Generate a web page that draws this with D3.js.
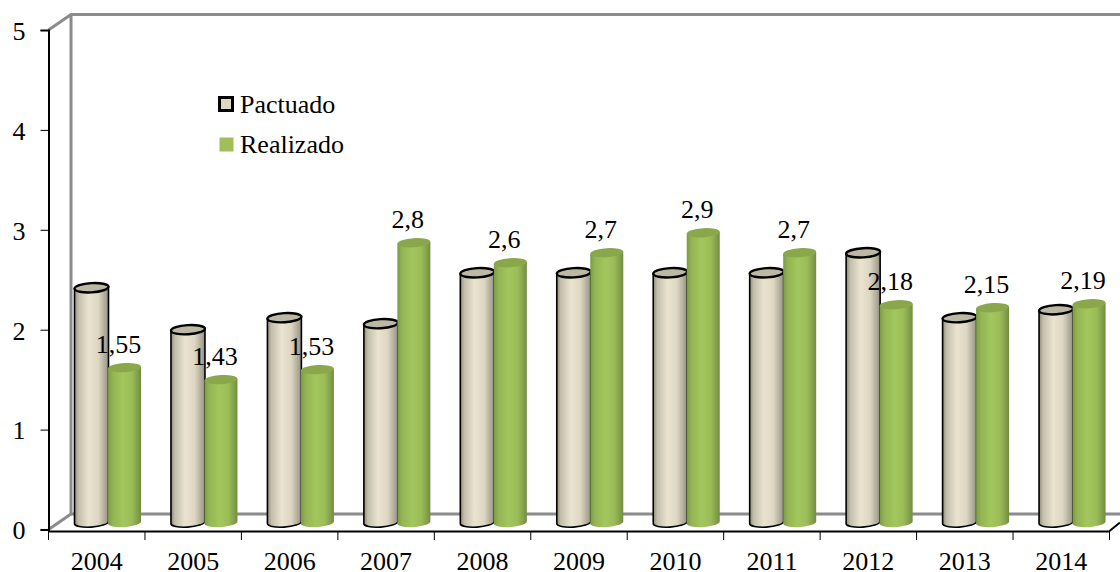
<!DOCTYPE html>
<html>
<head>
<meta charset="utf-8">
<script src="https://cdn.jsdelivr.net/npm/d3@7"></script>
<style>
html, body { margin: 0; padding: 0; background: #fff; }
text { font-family: "Liberation Serif", serif; font-size: 26px; fill: #000; }
</style>
</head>
<body>
<svg id="chart"></svg>
<script>
const years = ["2004","2005","2006","2007","2008","2009","2010","2011","2012","2013","2014"];
const pactuado = [2.35,1.93,2.05,1.99,2.5,2.5,2.5,2.5,2.7,2.05,2.13];
const realizado = [1.55,1.43,1.53,2.8,2.6,2.7,2.9,2.7,2.18,2.15,2.19];
const realizadoLabels = ["1,55","1,43","1,53","2,8","2,6","2,7","2,9","2,7","2,18","2,15","2,19"];
const seriesNames = ["Pactuado","Realizado"];
const yTicks = [0,1,2,3,4,5];

const width = 1120, height = 572;
const svg = d3.select("#chart").attr("width", width).attr("height", height);

const x = d3.scaleBand().domain(years).range([48.5, 1109.5]);
const y = d3.scaleLinear().domain([0, 5]).range([529.5, 30]);

// bars sit on the floor, a little behind the axis line
const depth = {dx: 22.5, dy: 15.5};
const baseShift = 6;
const beigeCx = d => x(d) + 43;
const greenCx = d => x(d) + 76;

const defs = svg.append("defs");
function cylGradient(id, stops) {
    defs.append("linearGradient").attr("id", id)
        .selectAll("stop")
        .data(stops)
        .join("stop")
        .attr("offset", d => d[0])
        .attr("stop-color", d => d[1]);
}
cylGradient("beige", [[0,"#8f8b7b"],[0.12,"#c4bfac"],[0.42,"#e9e3cf"],[0.7,"#dcd6c2"],[0.92,"#aaa594"],[1,"#8f8b7b"]]);
cylGradient("green", [[0,"#7c9a48"],[0.15,"#94b553"],[0.45,"#a3c65d"],[0.72,"#9bbd58"],[0.92,"#7f9c49"],[1,"#6f8a40"]]);

// walls and floor
const wall = svg.append("g")
    .attr("fill", "none")
    .attr("stroke", "#8c8c8c")
    .attr("stroke-width", 3);
const backX = x.range()[0] + depth.dx;
const backTop = y(5) - depth.dy;
const backBottom = y(0) - depth.dy;
wall.append("path").attr("d", `M${x.range()[0]},${y(5)}L${backX},${backTop}L${width},${backTop}`);
wall.append("path").attr("d", `M${backX},${backTop}L${backX},${backBottom}L${width},${backBottom}`);
wall.append("path").attr("d", `M${x.range()[0]},${y(0)}L${backX},${backBottom}`);
svg.append("path")
    .attr("d", `M${x.range()[1]},${y(0) + 1.5}L${width},${y(0) - 7}`)
    .attr("fill", "none").attr("stroke", "#000").attr("stroke-width", 2);

// axes
const yAxis = d3.axisLeft(y).tickValues(yTicks).tickSize(8).tickPadding(15).tickFormat(d3.format("d"));
const yG = svg.append("g").attr("transform", `translate(${x.range()[0]},0)`).call(yAxis);
const xAxis = d3.axisBottom(x).tickSize(0).tickPadding(21);
const xG = svg.append("g").attr("transform", `translate(0,${y(0) + 1.5})`).call(xAxis);
xG.selectAll(".boundary")
    .data(years.map(d => x(d)).concat(x.range()[1]))
    .join("line")
    .attr("class", "boundary")
    .attr("x1", d => d).attr("x2", d => d)
    .attr("y1", 0).attr("y2", 9)
    .attr("stroke", "#000");
[yG, xG].forEach(g => {
    g.attr("font-size", null).attr("font-family", null);
    g.selectAll(".domain").attr("stroke", "#000").attr("stroke-width", 2);
    g.selectAll(".tick line").attr("stroke", "#000");
});
yG.selectAll("text").attr("dy", "0.36em");

function cylinders(values, cx, rx, ry, fill, capFill, stroke) {
    const outlined = stroke !== "none";
    const g = svg.append("g").selectAll("g")
        .data(years.map((d, i) => ({year: d, value: values[i]})))
        .join("g");
    const top = d => y(d.value) - baseShift;
    const base = y(0) - baseShift;
    g.append("path")
        .attr("d", d => `M${cx(d.year) - rx},${top(d)}L${cx(d.year) - rx},${base}`
            + `A${rx},${ry} -4 0 0 ${cx(d.year) + rx},${base - 2}L${cx(d.year) + rx},${top(d) - 2}Z`)
        .attr("fill", `url(#${fill})`)
        .attr("stroke", stroke)
        .attr("stroke-width", outlined ? 1.6 : 0);
    g.append("ellipse")
        .attr("cx", d => cx(d.year))
        .attr("cy", d => top(d) - 1)
        .attr("rx", rx)
        .attr("ry", ry)
        .attr("transform", d => `rotate(-3.5 ${cx(d.year)} ${top(d) - 1})`)
        .attr("fill", capFill)
        .attr("stroke", stroke)
        .attr("stroke-width", outlined ? 2.4 : 0);
}
cylinders(pactuado, beigeCx, 17, 4.6, "beige", "#bcb8a4", "#000");
cylinders(realizado, greenCx, 16.5, 4.6, "green", "#8aa74c", "none");

// value labels
svg.append("g").selectAll("text")
    .data(realizadoLabels)
    .join("text")
    .attr("x", (d, i) => greenCx(years[i]) - 6)
    .attr("y", (d, i) => y(realizado[i]) - baseShift - 16)
    .attr("text-anchor", "middle")
    .text(d => d);

// legend
const legend = svg.append("g").selectAll("g")
    .data(seriesNames)
    .join("g")
    .attr("transform", (d, i) => `translate(219.5,${97.5 + i * 40})`);
legend.append("rect")
    .attr("width", (d, i) => i ? 14 : 13).attr("height", (d, i) => i ? 14 : 13)
    .attr("fill", (d, i) => i ? "#a0bf5a" : "#ddd8c2")
    .attr("stroke", (d, i) => i ? "none" : "#000")
    .attr("stroke-width", 3);
legend.append("text")
    .attr("x", 20.5).attr("y", 15)
    .text(d => d);
</script>
</body>
</html>
